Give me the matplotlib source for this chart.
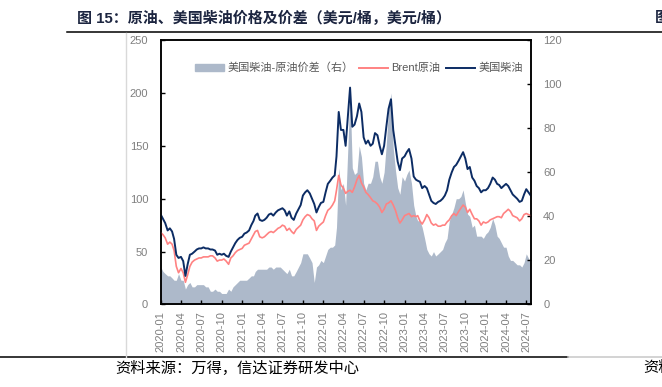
"""原油、美国柴油价格及价差 — recreated chart (dekadal readings)."""

import matplotlib

matplotlib.use("Agg")
import matplotlib.dates as mdates  # noqa: E402
import matplotlib.pyplot as plt  # noqa: E402
import pandas as pd  # noqa: E402
from matplotlib.lines import Line2D  # noqa: E402

plt.rcParams["font.family"] = ["Liberation Sans", "Noto Sans CJK SC"]

# sample dates: 1st, 11th, 21st of every month, 2020-01 .. 2024-07
months = pd.period_range("2020-01", "2024-07", freq="M")
dates = [pd.Timestamp(year=p.year, month=p.month, day=d) for p in months for d in (1, 11, 21)]

# 美国柴油, USD/bbl (left axis)
diesel = [
    # 2020
    85, 81, 77, 70, 72, 69, 62, 47, 44, 45, 41, 27, 38, 47, 48, 50, 52, 53,
    53, 54, 53, 53, 52, 52, 51, 47, 48, 47, 48, 46, 45, 50, 54, 58, 61, 63,
    # 2021
    64, 67, 68, 70, 75, 79, 84, 86, 80, 79, 80, 82, 85, 86, 84, 87, 89, 90,
    91, 89, 84, 88, 82, 80, 86, 90, 94, 103, 106, 108, 105, 100, 95, 87, 92, 96,
    # 2022
    97, 106, 114, 117, 120, 122, 140, 182, 165, 165, 150, 178, 205, 168, 170, 178, 190, 182,
    158, 152, 155, 150, 152, 162, 160, 150, 142, 150, 168, 185, 194, 165, 150, 135, 127, 138,
    # 2023
    140, 144, 147, 138, 121, 118, 117, 116, 110, 112, 110, 104, 98, 96, 95, 97, 98, 100,
    103, 108, 118, 125, 130, 132, 136, 140, 144, 138, 128, 130, 120, 117, 112, 110, 106, 108,
    # 2024
    108, 110, 114, 120, 118, 114, 113, 110, 112, 114, 112, 108, 104, 102, 100, 97, 98, 104,
    109, 106, 103,
]

# Brent原油, USD/bbl (left axis)
brent = [
    # 2020
    68, 66, 63, 57, 59, 57, 51, 36, 30, 34, 30, 21, 28, 36, 40, 42, 43, 44,
    44, 45, 45, 45, 46, 46, 44, 41, 42, 42, 43, 41, 38, 44, 46, 49, 51, 52,
    # 2021
    53, 56, 57, 58, 62, 66, 69, 70, 64, 63, 64, 66, 68, 69, 68, 70, 72, 73,
    75, 74, 70, 72, 69, 67, 71, 73, 75, 80, 83, 85, 84, 81, 79, 70, 74, 76,
    # 2022
    78, 84, 89, 91, 94, 98, 108, 122, 113, 110, 105, 107, 108, 106, 111, 118, 122, 115,
    111, 106, 104, 101, 98, 97, 95, 92, 87, 90, 95, 96, 98, 94, 89, 82, 77, 80,
    # 2023
    84, 85, 86, 83, 84, 83, 84, 79, 76, 80, 85, 82, 77, 75, 76, 74, 74, 75,
    75, 78, 80, 84, 86, 84, 88, 91, 94, 92, 87, 90, 85, 81, 81, 79, 75, 78,
    # 2024
    77, 78, 80, 81, 82, 83, 83, 82, 86, 88, 90, 88, 84, 83, 82, 79, 81, 85,
    86, 85, 84,
]

# 美国柴油-原油价差, USD/bbl (right axis)
spread = [
    # 2020
    17, 15, 14, 13, 13, 12, 11, 11, 14, 11, 11, 7, 9, 10, 8, 8, 9, 9,
    9, 9, 8, 8, 6, 6, 7, 6, 6, 5, 5, 5, 7, 6, 8, 9, 10, 11,
    # 2021
    11, 11, 11, 12, 13, 13, 15, 16, 16, 16, 16, 16, 17, 17, 16, 17, 17, 17,
    16, 15, 14, 16, 13, 13, 15, 17, 19, 23, 23, 23, 21, 19, 10, 17, 18, 20,
    # 2022
    19, 22, 25, 26, 26, 27, 35, 62, 52, 55, 45, 71, 96, 62, 59, 60, 72, 67,
    55, 52, 55, 55, 58, 65, 65, 58, 55, 60, 73, 89, 96, 71, 61, 53, 50, 58,
    # 2023
    56, 59, 61, 55, 45, 40, 38, 38, 35, 30, 25, 23, 22, 24, 22, 23, 24, 25,
    28, 30, 38, 41, 44, 48, 48, 49, 52, 46, 41, 40, 35, 36, 31, 31, 31, 30,
    # 2024
    32, 33, 35, 39, 36, 31, 30, 28, 26, 26, 22, 20, 20, 19, 18, 18, 17, 19,
    23, 21, 19,
]

NAVY = "#0C2C64"
PINK = "#FF8282"
GREY_FILL = "#ADB9CA"
TICK_GREY = "#7F7F7F"

fig = plt.figure(figsize=(6.62, 3.87), dpi=100)
ax = fig.add_axes([0.2428, 0.2132, 0.5589, 0.6834])
ax2 = ax.twinx()

ax2.fill_between(dates, 0, spread, color=GREY_FILL, lw=0)
ax.plot(dates, brent, color=PINK, lw=1.2)
ax.plot(dates, diesel, color=NAVY, lw=1.4)
ax.set_zorder(ax2.get_zorder() + 1)
ax.patch.set_visible(False)

ax.set_xlim(pd.Timestamp("2020-01-01"), pd.Timestamp("2024-07-21"))
ax.set_ylim(0, 250)
ax2.set_ylim(0, 120)
ax.set_yticks(range(0, 251, 50))
ax2.set_yticks(range(0, 121, 20))
ax.xaxis.set_major_locator(mdates.MonthLocator(bymonth=(1, 4, 7, 10)))
ax.xaxis.set_major_formatter(mdates.DateFormatter("%Y-%m"))

for a in (ax, ax2):
    a.tick_params(direction="in", length=3, width=1, colors="black",
                  labelcolor=TICK_GREY, labelsize=8)
    for s in a.spines.values():
        s.set_linewidth(1.1)
        s.set_color("black")
ax.tick_params(axis="y", pad=9)
ax2.tick_params(axis="y", pad=9)
ax.tick_params(axis="x", pad=5, labelrotation=90)

handles = [
    plt.Rectangle((0, 0), 1, 1, color=GREY_FILL),
    Line2D([], [], color=PINK, lw=1.4),
    Line2D([], [], color=NAVY, lw=1.4),
]
labels = ["美国柴油-原油价差（右）", "Brent原油", "美国柴油"]
ax.legend(handles, labels, loc="center", bbox_to_anchor=(0.536, 0.894), ncol=3,
          frameon=False, fontsize=8, labelcolor="#595959", handlelength=2.6,
          handleheight=0.6, handletextpad=0.3, columnspacing=0.5)

# page furniture around the chart
fig.text(77 / 662, 1 - 18 / 387, "图 15：原油、美国柴油价格及价差（美元/桶，美元/桶）",
         fontsize=10.8, fontweight="bold", color="#1C2540", va="center", ha="left")
fig.text(655 / 662, 1 - 18 / 387, "图", fontsize=10.8, fontweight="bold",
         color="#1C2540", va="center", ha="left")
fig.add_artist(Line2D([67 / 662, 1], [1 - 31.5 / 387] * 2, color="black", lw=1.1))
fig.add_artist(Line2D([0, 568 / 662], [1 - 357 / 387] * 2, color="black", lw=1.1))
fig.add_artist(Line2D([568 / 662, 1], [1 - 357 / 387] * 2, color="#C8C8C8", lw=1.1))
fig.add_artist(Line2D([125.5 / 662] * 2, [1 - 33 / 387, 1 - 357 / 387],
                      color="#D9D9D9", lw=1))
fig.text(115 / 662, 1 - 368 / 387, "资料来源：万得，信达证券研发中心", fontsize=11,
         color="black", va="center", ha="left", style="italic")
fig.text(643 / 662, 1 - 368 / 387, "资料", fontsize=11, color="black",
         va="center", ha="left", style="italic")

fig.savefig("out.png", dpi=100)
plt.close(fig)
